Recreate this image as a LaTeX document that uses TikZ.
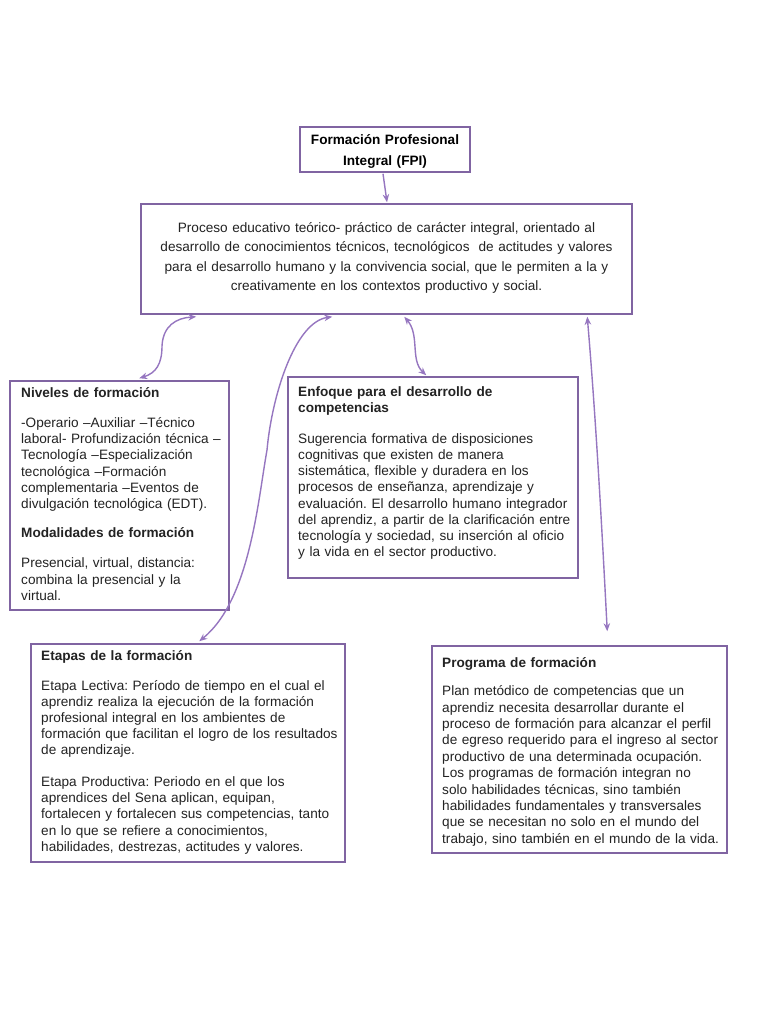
\documentclass[tikz,border=0pt]{standalone}
\usepackage{fontspec}
\setmainfont{Liberation Sans}
\usetikzlibrary{arrows.meta,calc}
\definecolor{boxpurple}{RGB}{128,100,162}
\definecolor{linepurple}{RGB}{150,118,192}
\definecolor{txt}{RGB}{35,35,35}
\tikzset{
  box/.style={draw=boxpurple, line width=1.5pt, inner sep=0pt, fill=white},
  body/.style={inner sep=0pt, anchor=base west, align=left, text=txt,
    font=\frenchspacing\fontsize{13.6}{16.2}\selectfont},
  link/.style={draw=linepurple, line width=1.4pt,
    {Stealth[length=8pt,width=6.5pt]}-{Stealth[length=8pt,width=6.5pt]}},
  onelink/.style={draw=linepurple, line width=1.4pt,
    -{Stealth[length=8pt,width=6.5pt]}},
}
\begin{document}
\begin{tikzpicture}[x=1pt,y=-1pt]
\useasboundingbox[fill=white] (0,0) rectangle (768,1024);

% boxes
\node[box, minimum width=170pt, minimum height=45pt] (fpi) at (385,149.5) {};
\node[box, minimum width=491pt, minimum height=110pt] (main) at (386.5,259) {};
\node[box, minimum width=219pt, minimum height=229pt] (niv) at (119.5,495.5) {};
\node[box, minimum width=290pt, minimum height=201pt] (enf) at (433,477.5) {};
\node[box, minimum width=314pt, minimum height=218pt] (eta) at (188,753) {};
\node[box, minimum width=295pt, minimum height=207pt] (prog) at (579.5,749.5) {};

% texts
\node[inner sep=0pt, anchor=base, align=center, text width=168pt,
  font=\bfseries\fontsize{13.6}{21}\selectfont] (tfpi) at (385,145)
  {Formación Profesional\\Integral (FPI)};

\node[inner sep=0pt, anchor=base, align=center, text width=485pt, text=txt,
  font=\frenchspacing\fontsize{13.6}{19.5}\selectfont] (tmain) at (386.5,232.5)
  {Proceso educativo teórico- práctico de carácter integral, orientado al\\
   desarrollo de conocimientos técnicos, tecnológicos\ \ de actitudes y valores\\
   para el desarrollo humano y la convivencia social, que le permiten a la y\\
   creativamente en los contextos productivo y social.};

\node[body, text width=215pt] (tniv) at (21,397.5)
  {\textbf{Niveles de formación}\\[13.8pt]
   -Operario –Auxiliar –Técnico\\
   laboral- Profundización técnica –\\
   Tecnología –Especialización\\
   tecnológica –Formación\\
   complementaria –Eventos de\\
   divulgación tecnológica (EDT).\\[13pt]
   \textbf{Modalidades de formación}\\[14pt]
   Presencial, virtual, distancia:\\
   combina la presencial y la\\
   virtual.};

\node[body, text width=285pt] (tenf) at (298,396)
  {\textbf{Enfoque para el desarrollo de}\\
   \textbf{competencias}\\[14.8pt]
   Sugerencia formativa de disposiciones\\
   cognitivas que existen de manera\\
   sistemática, flexible y duradera en los\\
   procesos de enseñanza, aprendizaje y\\
   evaluación. El desarrollo humano integrador\\
   del aprendiz, a partir de la clarificación entre\\
   tecnología y sociedad, su inserción al oficio\\
   y la vida en el sector productivo.};

\node[body, text width=310pt] (teta) at (41,660.5)
  {\textbf{Etapas de la formación}\\[13.3pt]
   Etapa Lectiva: Período de tiempo en el cual el\\
   aprendiz realiza la ejecución de la formación\\
   profesional integral en los ambientes de\\
   formación que facilitan el logro de los resultados\\
   de aprendizaje.\\[15.5pt]
   Etapa Productiva: Periodo en el que los\\
   aprendices del Sena aplican, equipan,\\
   fortalecen y fortalecen sus competencias, tanto\\
   en lo que se refiere a conocimientos,\\
   habilidades, destrezas, actitudes y valores.};

\node[body, text width=290pt, font=\frenchspacing\fontsize{13.6}{16.4}\selectfont]
  (tprog) at (442,667.5)
  {\textbf{Programa de formación}\\[11.8pt]
   Plan metódico de competencias que un\\
   aprendiz necesita desarrollar durante el\\
   proceso de formación para alcanzar el perfil\\
   de egreso requerido para el ingreso al sector\\
   productivo de una determinada ocupación.\\
   Los programas de formación integran no\\
   solo habilidades técnicas, sino también\\
   habilidades fundamentales y transversales\\
   que se necesitan no solo en el mundo del\\
   trabajo, sino también en el mundo de la vida.};

% connector end points
\coordinate (mA) at ($(main.south west)+(56,2)$);
\coordinate (mB) at ($(main.south west)+(192,2)$);
\coordinate (mC) at ($(main.south west)+(264,2)$);
\coordinate (mD) at ($(main.south west)+(447,2)$);
\coordinate (nA) at ($(niv.north west)+(130,-2)$);
\coordinate (eB) at ($(eta.north west)+(169,-2)$);
\coordinate (fC) at ($(enf.north west)+(139,-1)$);
\coordinate (pD) at ($(prog.north west)+(176,-14)$);

% connectors
\draw[onelink] ($(fpi.south)+(-2,1)$) -- ($(main.north)+(0.5,-1)$);
\draw[link] (nA) .. controls (156,373) and (162,364) .. (162,346)
  .. controls (163,326) and (176,318) .. (mA);
\draw[link] (eB) .. controls (250,600) and (258,500) .. (267,450)
  .. controls (272,395) and (295,322) .. (mB);
\draw[link] (fC) .. controls (410,360) and (420,335) .. (mC);
\draw[link] (pD) .. controls (602,530) and (596,420) .. (mD);
\end{tikzpicture}
\end{document}
